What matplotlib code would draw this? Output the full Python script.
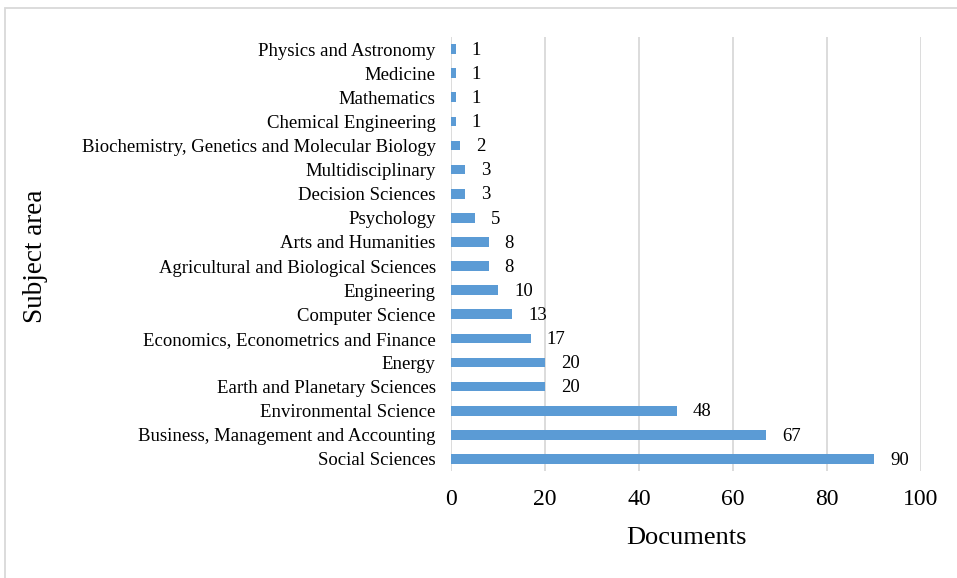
import matplotlib
matplotlib.use("Agg")
import matplotlib.pyplot as plt
from matplotlib.patches import Rectangle

categories = ["Social Sciences", "Business, Management and Accounting", "Environmental Science",
              "Earth and Planetary Sciences", "Energy", "Economics, Econometrics and Finance",
              "Computer Science", "Engineering", "Agricultural and Biological Sciences",
              "Arts and Humanities", "Psychology", "Decision Sciences", "Multidisciplinary",
              "Biochemistry, Genetics and Molecular Biology", "Chemical Engineering",
              "Mathematics", "Medicine", "Physics and Astronomy"]
values = [90, 67, 48, 20, 20, 17, 13, 10, 8, 8, 5, 3, 3, 2, 1, 1, 1, 1]
xticks = [0, 20, 40, 60, 80, 100]

plt.rcParams['font.family'] = ['Liberation Serif', 'DejaVu Serif']

fig = plt.figure(figsize=(9.57, 5.78), dpi=100)
ax = fig.add_axes([451/957, 1 - 471/578, (921-451)/957, (471-37)/578])

ypos = list(range(len(categories)))
ax.barh(ypos, values, height=0.4, color='#5B9BD5', zorder=3)
for y, v in zip(ypos, values):
    ax.text(v + 3.4, y - 0.05, str(v), va='center', ha='left', fontsize=13.5, color='#000000')

ax.set_xlim(0, 100)
ax.set_ylim(-0.5, len(categories) - 0.5)
ax.set_xticks(xticks)
ax.set_xticklabels([str(t) for t in xticks], fontsize=17)
ax.set_yticks(ypos)
ax.set_yticklabels(categories, fontsize=13.5)
ax.tick_params(axis='both', length=0)
ax.tick_params(axis='x', pad=13)
ax.tick_params(axis='y', pad=11)
ax.xaxis.grid(True, color='#D9D9D9', linewidth=1.3, zorder=0)
for s in ax.spines.values():
    s.set_visible(False)

fig.text(686/957, 1 - 538/578, "Documents", ha='center', va='center', fontsize=19)
fig.text(36/957, 1 - 256/578, "Subject area", ha='center', va='center', fontsize=19.5, rotation=90)

fig.patches.append(Rectangle((5/957, -0.01), 1.0, 1 - 8/578 + 0.01, transform=fig.transFigure,
                             fill=False, edgecolor='#D9D9D9', linewidth=1.3))

fig.savefig("out.png", dpi=100)
